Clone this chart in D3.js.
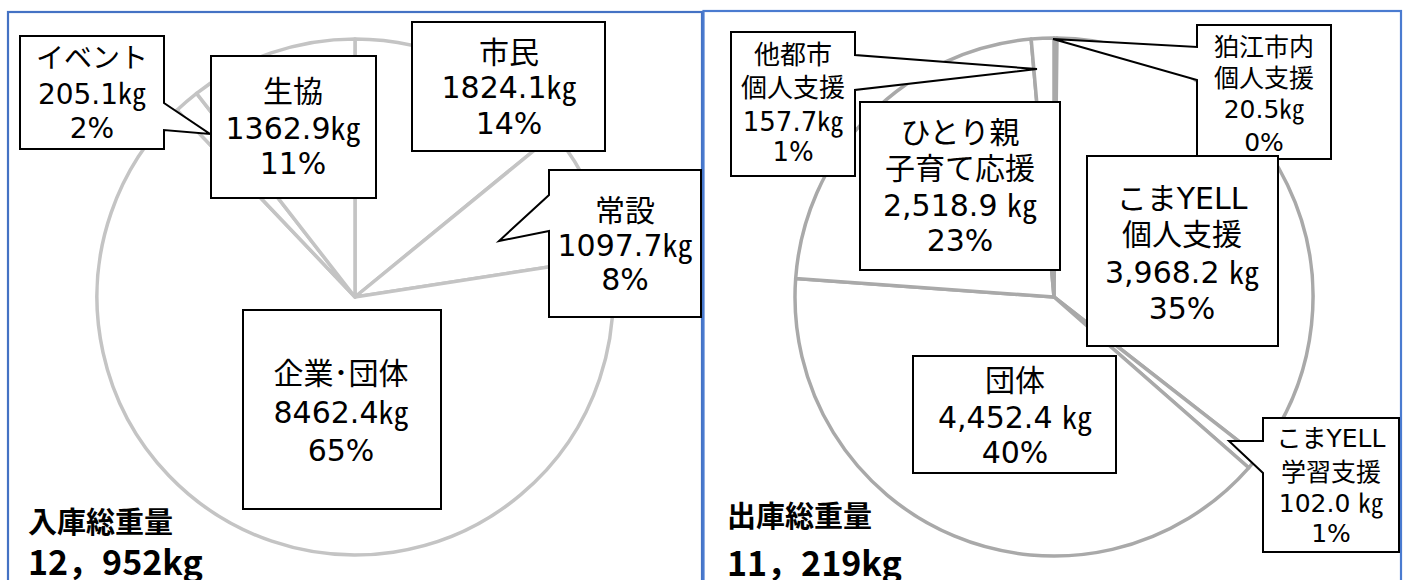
<!DOCTYPE html>
<html><head><meta charset="utf-8">
<script src="https://cdn.jsdelivr.net/npm/d3@7"></script>
<style>html,body{margin:0;padding:0;background:#fff}svg{display:block}</style>
</head><body>
<svg id="c" width="1406" height="580"></svg>
<script>
// ---------- DATA ----------
// 入庫 (incoming) – clockwise from 12 o'clock
const inCategories = ["市民", "常設", "企業･団体", "イベント", "生協"];
const inValues = [1824.1, 1097.7, 8462.4, 205.1, 1362.9];
const inValueLabels = ["1824.1㎏", "1097.7㎏", "8462.4㎏", "205.1㎏", "1362.9㎏"];
const inPercentLabels = ["14%", "8%", "65%", "2%", "11%"];
const inTitle = "入庫総重量";
const inTotalLabel = "12，952kg";

// 出庫 (outgoing) – clockwise from 12 o'clock
const outCategories = ["狛江市内\n個人支援", "こまYELL\n個人支援", "こまYELL\n学習支援", "団体", "ひとり親\n子育て応援", "他都市\n個人支援"];
const outValues = [20.5, 3968.2, 102.0, 4452.4, 2518.9, 157.7];
const outValueLabels = ["20.5㎏", "3,968.2 ㎏", "102.0 ㎏", "4,452.4 ㎏", "2,518.9 ㎏", "157.7㎏"];
const outPercentLabels = ["0%", "35%", "1%", "40%", "23%", "1%"];
const outTitle = "出庫総重量";
const outTotalLabel = "11，219kg";

// ---------- LAYOUT (annotation positions) ----------
const inPie = {cx: 355, cy: 297, r: 258, stroke: "#c4c4c4", sw: 3.5};
const outPie = {cx: 1054, cy: 297, r: 259, stroke: "#a9a9a9", sw: 3.5};

const inCallouts = [
  {box: [412, 22, 605, 151], cx: 509, lines: [52, 87, 123], fs: 30},
  {box: [549, 170, 701, 317], cx: 625, lines: [210, 245, 279], fs: 30,
   ptr: {side: "left", a: 195, b: 231, x: 499, y: 241}},
  {box: [243, 310, 441, 509], cx: 341, lines: [373, 412, 450], fs: 30},
  {box: [20, 36, 164, 149], cx: 92, lines: [58, 94, 128], fs: 28,
   ptr: {side: "right", a: 103, b: 130, x: 210, y: 134}},
  {box: [211, 56, 376, 198], cx: 293, lines: [91, 128, 163], fs: 30}
];
const outCallouts = [
  {box: [1197, 25, 1331, 159], cx: 1264, lines: [47, 78, 109, 142], fs: 25,
   ptr: {side: "left", a: 47, b: 80, x: 1053, y: 39}},
  {box: [1087, 156, 1278, 346], cx: 1182, lines: [198, 234, 272, 308], fs: 30},
  {box: [1263, 418, 1399, 552], cx: 1331, lines: [438, 472, 503, 533], fs: 25,
   ptr: {side: "left", a: 441, b: 473, x: 1229, y: 441}},
  {box: [913, 356, 1116, 473], cx: 1015, lines: [380, 417, 452], fs: 30},
  {box: [860, 102, 1060, 270], cx: 960, lines: [132, 168, 205, 240], fs: 30},
  {box: [731, 32, 855, 176], cx: 793, lines: [55, 88, 122, 152], fs: 26,
   ptr: {side: "right", a: 55, b: 90, x: 1037, y: 69}}
];

const LABEL_FONT = "'DejaVu Sans','Noto Sans CJK JP',sans-serif";
const TITLE_FONT = "'Noto Sans CJK JP','Noto Sans',sans-serif";

// ---------- DRAW ----------
const svg = d3.select("#c");

// panel borders
svg.append("rect").attr("x", 8).attr("y", 12).attr("width", 694).attr("height", 620)
  .attr("fill", "none").attr("stroke", "#4472c4").attr("stroke-width", 2.2);
svg.append("rect").attr("x", 703.5).attr("y", 11).attr("width", 697.5).attr("height", 620)
  .attr("fill", "none").attr("stroke", "#4a7bd0").attr("stroke-width", 2.2);

function drawPie(values, p) {
  const pie = d3.pie().sort(null).value(d => d);
  const arc = d3.arc().innerRadius(0).outerRadius(p.r);
  svg.append("g").attr("transform", `translate(${p.cx},${p.cy})`)
    .selectAll("path").data(pie(values)).join("path")
    .attr("d", arc)
    .attr("fill", "#fff")
    .attr("stroke", p.stroke)
    .attr("stroke-width", p.sw)
    .attr("stroke-linejoin", "round");
}

function calloutPath(c) {
  const [x0, y0, x1, y1] = c.box;
  const p = d3.path();
  p.moveTo(x0, y0);
  p.lineTo(x1, y0);
  if (c.ptr && c.ptr.side === "right") {
    p.lineTo(x1, c.ptr.a); p.lineTo(c.ptr.x, c.ptr.y); p.lineTo(x1, c.ptr.b);
  }
  p.lineTo(x1, y1);
  p.lineTo(x0, y1);
  if (c.ptr && c.ptr.side === "left") {
    p.lineTo(x0, c.ptr.b); p.lineTo(c.ptr.x, c.ptr.y); p.lineTo(x0, c.ptr.a);
  }
  p.closePath();
  return p.toString();
}

function drawCallouts(categories, valueLabels, pctLabels, layout) {
  const data = categories.map((c, i) => ({
    lines: c.split("\n").concat([valueLabels[i], pctLabels[i]]),
    L: layout[i]
  }));
  const g = svg.append("g").selectAll("g").data(data).join("g");
  g.append("path")
    .attr("d", d => calloutPath(d.L))
    .attr("fill", "#fff").attr("stroke", "#000").attr("stroke-width", 2)
    .attr("stroke-linejoin", "miter");
  g.each(function (d) {
    const sel = d3.select(this);
    d.lines.forEach((t, k) => {
      sel.append("text")
        .attr("x", d.L.cx)
        .attr("y", d.L.lines[k] + d.L.fs * 0.36)
        .attr("text-anchor", "middle")
        .attr("font-family", LABEL_FONT)
        .attr("font-size", d.L.fs)
        .attr("fill", "#000")
        .text(t);
    });
  });
}

function drawTitle(title, total, x, y1, y2) {
  svg.append("text").attr("x", x).attr("y", y1)
    .attr("font-family", TITLE_FONT).attr("font-weight", 700).attr("font-size", 29)
    .attr("fill", "#000").text(title);
  svg.append("text").attr("x", x).attr("y", y2)
    .attr("font-family", TITLE_FONT).attr("font-weight", 700).attr("font-size", 34)
    .attr("fill", "#000").text(total);
}

drawPie(inValues, inPie);
drawPie(outValues, outPie);
drawCallouts(inCategories, inValueLabels, inPercentLabels, inCallouts);
drawCallouts(outCategories, outValueLabels, outPercentLabels, outCallouts);
drawTitle(inTitle, inTotalLabel, 28, 533, 575);
drawTitle(outTitle, outTotalLabel, 727, 527, 576);
</script>
</body></html>
